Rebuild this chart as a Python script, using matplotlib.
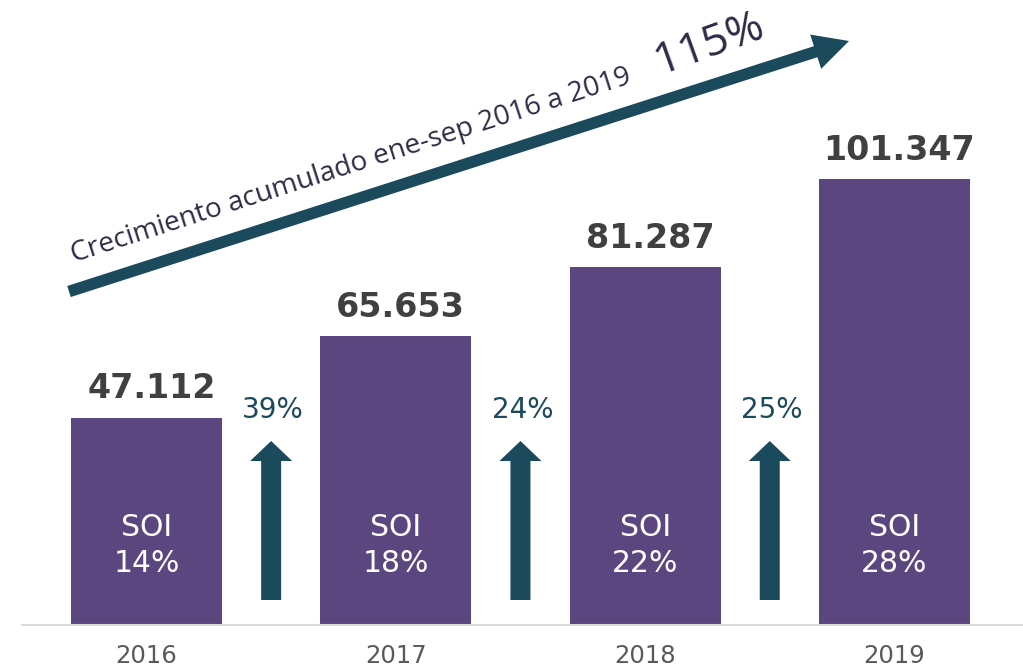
import matplotlib
matplotlib.use("Agg")
import matplotlib.pyplot as plt
from matplotlib.patches import Polygon
import numpy as np

# ---- data ----
years = ["2016", "2017", "2018", "2019"]
values = [47112, 65653, 81287, 101347]
value_labels = ["47.112", "65.653", "81.287", "101.347"]
soi_labels = ["14%", "18%", "22%", "28%"]
growth_labels = ["39%", "24%", "25%"]
title_text = "Crecimiento acumulado ene-sep 2016 a 2019"
total_growth = "115%"

BAR = "#5B4680"
TEAL = "#1B4A5C"
DARK = "#404040"
GREY = "#595959"
NAVY = "#2D2B45"

W, H = 1023, 671
fig = plt.figure(figsize=(W / 100, H / 100), dpi=100)

base_px = 624.5          # baseline pixel (from top)
scale = 207 / 47112      # pixels per unit
ax = fig.add_axes([0, (H - base_px) / H, 1, base_px / H])
ax.set_ylim(0, base_px / scale)
ax.set_xlim(-146.5 / 249.3, (W - 146.5) / 249.3)

x = np.arange(len(years))
ax.bar(x, values, width=0.606, color=BAR, zorder=2)

for s in ["top", "left", "right"]:
    ax.spines[s].set_visible(False)
ax.spines["bottom"].set_color("#D9D9D9")
ax.spines["bottom"].set_linewidth(1.5)
ax.spines["bottom"].set_bounds(-124 / 249.3, ax.get_xlim()[1])
ax.set_yticks([])
ax.set_xticks(x)
ax.set_xticklabels(years, fontsize=17.5, color=GREY, family="DejaVu Sans")
ax.tick_params(axis="x", length=0, pad=14)

for xi, v, lab in zip(x, values, value_labels):
    ax.annotate(lab, xy=(xi, v), xytext=(3.5, 14), textcoords="offset points",
                ha="center", va="baseline", fontsize=24, fontweight="bold",
                color=DARK, family="DejaVu Sans")

# overlay in pixel coordinates
ov = fig.add_axes([0, 0, 1, 1], zorder=5)
ov.set_xlim(0, W)
ov.set_ylim(H, 0)
ov.axis("off")
ov.patch.set_alpha(0)

fig.canvas.draw()

def px_x(xd):
    return ax.transData.transform((xd, 0))[0]

for xi, lab in zip(x, soi_labels):
    cx = px_x(xi)
    ov.text(cx, 527, "SOI", ha="center", va="center", fontsize=21.5,
            color="white", family="DejaVu Sans")
    ov.text(cx, 563, lab, ha="center", va="center", fontsize=21.5,
            color="white", family="DejaVu Sans")

for i, lab in enumerate(growth_labels):
    cx = px_x(i + 0.5)
    ov.add_patch(Polygon([(cx - 10, 600), (cx + 10, 600), (cx + 10, 461),
                          (cx + 21, 461), (cx, 441), (cx - 21, 461),
                          (cx - 10, 461)], closed=True, color=TEAL, lw=0))
    ov.text(cx + 2, 410, lab, ha="center", va="center", fontsize=20,
            color=TEAL, family="DejaVu Sans")

# big arrow
tail = np.array([69.0, 291.5])
tip = np.array([849.0, 41.0])
d = tip - tail
L = np.hypot(*d)
u = d / L
n = np.array([u[1], -u[0]])
n = -n if n[1] < 0 else n
hl, hw, sw = 35, 18, 5.8
hb = tip - u * hl
pts = [tail + n * sw, hb + n * sw, hb + n * hw, tip, hb - n * hw, hb - n * sw, tail - n * sw]
ov.add_patch(Polygon(pts, closed=True, color=TEAL, lw=0))

ang = np.degrees(np.arctan2(-d[1], d[0]))
ov.text(74, 262, title_text, rotation=ang, rotation_mode="anchor",
        ha="left", va="baseline", fontsize=20.2, color=NAVY, family="Open Sans")
ov.text(660, 74, total_growth, rotation=ang + 2, rotation_mode="anchor",
        ha="left", va="baseline", fontsize=32, color=NAVY, family="Open Sans")

fig.savefig("out.png", dpi=100)
